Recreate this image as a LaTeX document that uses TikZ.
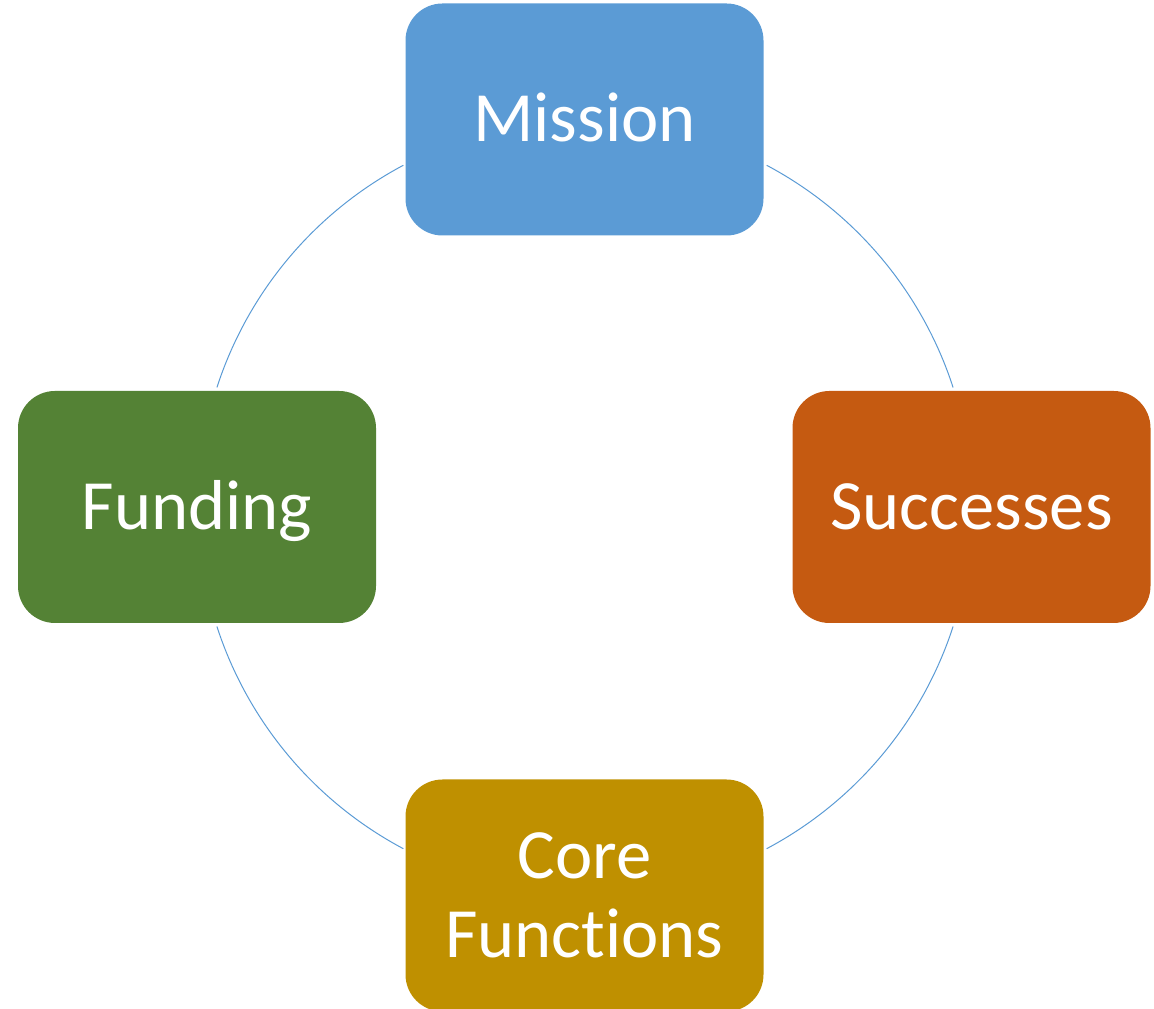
\documentclass[tikz,border=0pt]{standalone}
\usepackage{fontspec}
\setmainfont{Carlito}[Ligatures=NoCommon]
\usepackage{xcolor}
\usepackage{tikz}

\definecolor{missionblue}{HTML}{5B9BD5}
\definecolor{successorange}{HTML}{C55A11}
\definecolor{fundinggreen}{HTML}{548235}
\definecolor{coregold}{HTML}{BF9000}

\begin{document}
\begin{tikzpicture}[x=0.75pt, y=0.75pt,
    box/.style={rounded corners=27.75pt, minimum width=268.5pt, minimum height=174pt,
        inner sep=0pt, text=white, align=center, font=\fontsize{53}{59.25}\selectfont},
    oneline/.style={box, text height=33.7pt, text depth=0pt},
    link/.style={draw=missionblue, line width=0.75pt}]
    \useasboundingbox (0,0) rectangle (1154,1009);

    % Four boxes round the cycle
    \node[oneline, fill=missionblue] (mission) at (584.5,889.5) {Mission};
    \node[oneline, fill=successorange] (successes) at (971.5,502) {Successes};
    \node[oneline, fill=fundinggreen] (funding) at (197,502) {Funding};
    \node[box, fill=coregold] (core) at (584.5,113.5) {Core\\Functions};

    % Arcs of the circle between the boxes
    \coordinate (ctr) at (585,502);
    \coordinate (mf) at ([shift={(118:290.25pt)}]ctr);
    \coordinate (fc) at ([shift={(198:290.25pt)}]ctr);
    \coordinate (cs) at ([shift={(298:290.25pt)}]ctr);
    \coordinate (sm) at ([shift={(18:290.25pt)}]ctr);
    \draw[link] (mf) arc[start angle=118, end angle=162, radius=290.25pt];
    \draw[link] (fc) arc[start angle=198, end angle=242, radius=290.25pt];
    \draw[link] (cs) arc[start angle=298, end angle=342, radius=290.25pt];
    \draw[link] (sm) arc[start angle=18, end angle=62, radius=290.25pt];
\end{tikzpicture}
\end{document}
